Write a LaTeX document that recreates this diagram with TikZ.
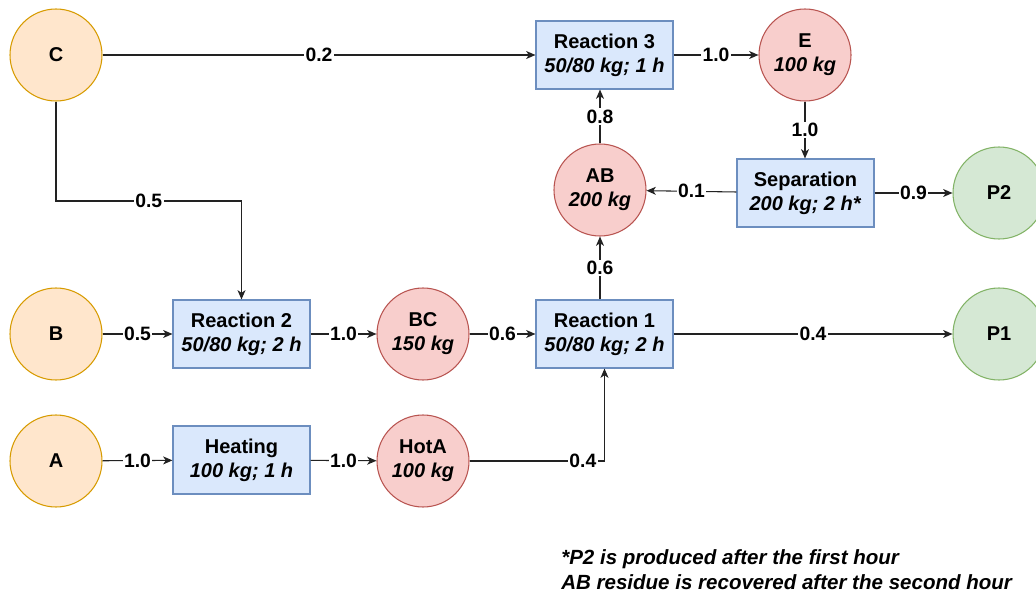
\documentclass[tikz,border=0pt]{standalone}
\usepackage{fontspec}
\setmainfont{Liberation Sans}
\usetikzlibrary{arrows.meta}
\definecolor{ofill}{HTML}{FFE6CC}\definecolor{oline}{HTML}{D79B00}
\definecolor{rfill}{HTML}{F8CECC}\definecolor{rline}{HTML}{B85450}
\definecolor{gfill}{HTML}{D5E8D4}\definecolor{gline}{HTML}{82B366}
\definecolor{bfill}{HTML}{DAE8FC}\definecolor{bline}{HTML}{6C8EBF}
\definecolor{edgecol}{HTML}{222222}
\tikzset{
  every node/.style={font=\fontsize{15}{18}\selectfont\bfseries, align=center},
  raw/.style={circle, draw=oline, fill=ofill, line width=0.8pt, minimum size=69pt, inner sep=0pt},
  inter/.style={circle, draw=rline, fill=rfill, line width=0.8pt, minimum size=69pt, inner sep=0pt},
  prod/.style={circle, draw=gline, fill=gfill, line width=0.8pt, minimum size=69pt, inner sep=0pt},
  task/.style={rectangle, draw=bline, fill=bfill, line width=0.8pt, minimum width=102.75pt, minimum height=51pt, inner sep=0pt},
  arr/.style={draw=edgecol, line width=0.8pt, -{Stealth[length=7pt,width=6pt,inset=2pt]}},
  lbl/.style={fill=white, inner sep=1pt, font=\fontsize{14.5}{16}\selectfont\bfseries},
}
\begin{document}
\begin{tikzpicture}[x=0.75pt,y=-0.75pt]
\useasboundingbox (0,0) rectangle (1036,592);
% raw materials
\node[raw] (C) at (56,55) {C};
\node[raw] (B) at (56,334) {B};
\node[raw] (A) at (56,461) {A};
% tasks
\node[task] (R3) at (604.5,55) {Reaction 3\\\textit{50/80 kg; 1 h}};
\node[task] (Sep) at (805.5,193) {Separation\\\textit{200 kg; 2 h*}};
\node[task] (R2) at (241.5,334) {Reaction 2\\\textit{50/80 kg; 2 h}};
\node[task] (R1) at (604.5,334) {Reaction 1\\\textit{50/80 kg; 2 h}};
\node[task] (Heat) at (241.5,460) {Heating\\\textit{100 kg; 1 h}};
% intermediates
\node[inter] (E) at (805,55) {E\\\textit{100 kg}};
\node[inter] (AB) at (600,190) {AB\\\textit{200 kg}};
\node[inter] (BC) at (423,334) {BC\\\textit{150 kg}};
\node[inter] (HotA) at (423,461) {HotA\\\textit{100 kg}};
% products
\node[prod] (P2) at (999,193) {P2};
\node[prod] (P1) at (999,334) {P1};
% corner
\coordinate (c5) at (241.5,201);
% edges
\draw[arr] (C) -- node[lbl]{0.2} (R3);
\draw[arr] (C) |- node[lbl,pos=0.75]{0.5} (c5) -- (R2);
\draw[arr] (B) -- node[lbl]{0.5} (R2);
\draw[arr] (R2) -- node[lbl]{1.0} (BC);
\draw[arr] (BC) -- node[lbl]{0.6} (R1);
\draw[arr] (A) -- node[lbl]{1.0} (Heat);
\draw[arr] (Heat) -- node[lbl]{1.0} (HotA);
\draw[arr] (HotA) -| node[lbl,pos=0.42]{0.4} (R1);
\draw[arr] (R1) -- node[lbl]{0.4} (P1);
\draw[arr] (R1.north -| AB) -- node[lbl]{0.6} (AB);
\draw[arr] (AB) -- node[lbl]{0.8} (R3.south -| AB);
\draw[arr] (R3) -- node[lbl]{1.0} (E);
\draw[arr] (E) -- node[lbl]{1.0} (Sep.north -| E);
\draw[arr] (Sep) -- node[lbl]{0.1} (AB);
\draw[arr] (Sep) -- node[lbl]{0.9} (P2);
% footnote
\node[anchor=west, align=left, inner sep=0pt, font=\fontsize{15.4}{18.75}\selectfont\bfseries\itshape] (note) at (561,569.5)
  {*P2 is produced after the first hour\\AB residue is recovered after the second hour};
\end{tikzpicture}
\end{document}
